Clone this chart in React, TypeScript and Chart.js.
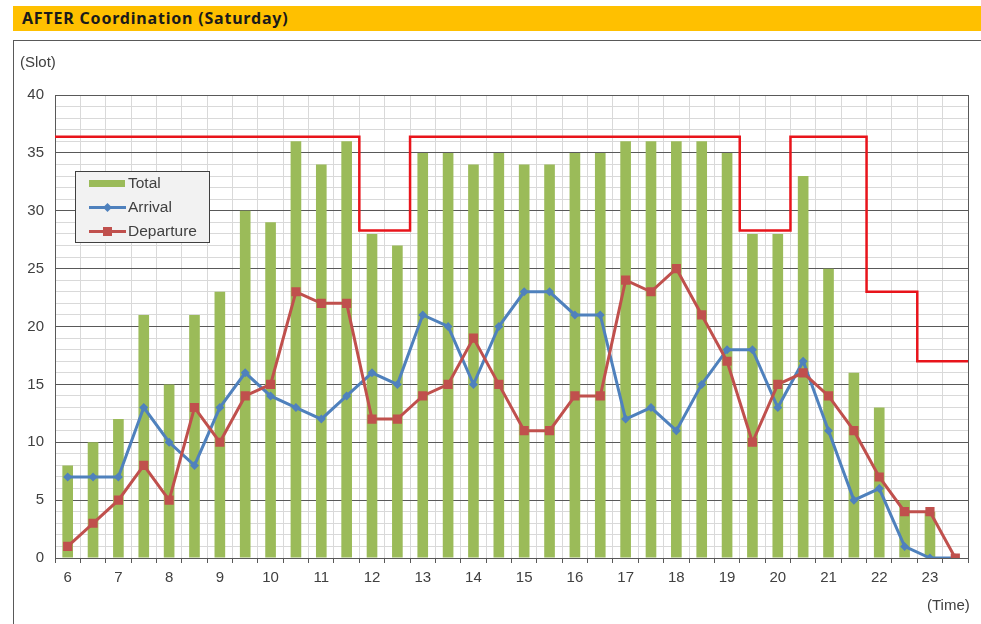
import React, { useEffect, useRef } from 'react';
import { Chart, registerables } from 'chart.js';

Chart.register(...registerables);

// ---- Data ----
const categories = [
  '6:00', '6:30', '7:00', '7:30', '8:00', '8:30', '9:00', '9:30', '10:00', '10:30',
  '11:00', '11:30', '12:00', '12:30', '13:00', '13:30', '14:00', '14:30', '15:00', '15:30',
  '16:00', '16:30', '17:00', '17:30', '18:00', '18:30', '19:00', '19:30', '20:00', '20:30',
  '21:00', '21:30', '22:00', '22:30', '23:00', '23:30',
];
const hourTickLabels = [
  '6', '', '7', '', '8', '', '9', '', '10', '', '11', '', '12', '', '13', '', '14', '',
  '15', '', '16', '', '17', '', '18', '', '19', '', '20', '', '21', '', '22', '', '23', '',
];
const totalSlots = [
  8, 10, 12, 21, 15, 21, 23, 30, 29, 36, 34, 36, 28, 27, 35, 35, 34, 35,
  34, 34, 35, 35, 36, 36, 36, 36, 35, 28, 28, 33, 25, 16, 13, 5, 4, 0,
];
const arrivals = [
  7, 7, 7, 13, 10, 8, 13, 16, 14, 13, 12, 14, 16, 15, 21, 20, 15, 20,
  23, 23, 21, 21, 12, 13, 11, 15, 18, 18, 13, 17, 11, 5, 6, 1, 0, 0,
];
const departures = [
  1, 3, 5, 8, 5, 13, 10, 14, 15, 23, 22, 22, 12, 12, 14, 15, 19, 15,
  11, 11, 14, 14, 24, 23, 25, 21, 17, 10, 15, 16, 14, 11, 7, 4, 4, 0,
];
const capacity = [
  36.4, 36.4, 36.4, 36.4, 36.4, 36.4, 36.4, 36.4, 36.4, 36.4, 36.4, 36.4,
  28.3, 28.3,
  36.4, 36.4, 36.4, 36.4, 36.4, 36.4, 36.4, 36.4, 36.4, 36.4, 36.4, 36.4, 36.4,
  28.3, 28.3,
  36.4, 36.4, 36.4,
  23, 23,
  17, 17,
];
const yMin = 0;
const yMax = 40;
const yMajorStep = 5;

const GREEN = '#9BBB59';
const BLUE = '#4F81BD';
const RED = '#C0504D';
const CAP_RED = '#E8141B';
const TEXT = '#404040';
const FONT = '"Liberation Sans", Arial, sans-serif';

const framePlugin = {
  id: 'frame',
  beforeDatasetsDraw(chart: any) {
    const { ctx, chartArea } = chart;
    ctx.save();
    ctx.strokeStyle = '#595959';
    ctx.lineWidth = 1;
    ctx.strokeRect(
      Math.round(chartArea.left) + 0.5,
      Math.round(chartArea.top) + 0.5,
      Math.round(chartArea.right - chartArea.left),
      Math.round(chartArea.bottom - chartArea.top)
    );
    ctx.restore();
  },
};

const legendPlugin = {
  id: 'boxLegend',
  afterDraw(chart: any) {
    const ctx = chart.ctx;
    ctx.save();
    ctx.fillStyle = '#F2F2F2';
    ctx.fillRect(75.5, 171.5, 134, 71);
    ctx.strokeStyle = '#404040';
    ctx.lineWidth = 1;
    ctx.strokeRect(75.5, 171.5, 134, 71);

    // Total
    ctx.fillStyle = GREEN;
    ctx.fillRect(89, 180, 36, 7);

    // Arrival
    ctx.strokeStyle = BLUE;
    ctx.lineWidth = 3;
    ctx.beginPath();
    ctx.moveTo(89, 207.5);
    ctx.lineTo(126, 207.5);
    ctx.stroke();
    ctx.fillStyle = BLUE;
    ctx.beginPath();
    ctx.moveTo(107.5, 203);
    ctx.lineTo(112, 207.5);
    ctx.lineTo(107.5, 212);
    ctx.lineTo(103, 207.5);
    ctx.closePath();
    ctx.fill();

    // Departure
    ctx.strokeStyle = RED;
    ctx.beginPath();
    ctx.moveTo(89, 231.5);
    ctx.lineTo(126, 231.5);
    ctx.stroke();
    ctx.fillStyle = RED;
    ctx.fillRect(103, 227, 9, 9);

    ctx.fillStyle = TEXT;
    ctx.font = `15.5px ${FONT}`;
    ctx.textBaseline = 'middle';
    ctx.textAlign = 'left';
    ctx.fillText('Total', 128, 184);
    ctx.fillText('Arrival', 128, 208);
    ctx.fillText('Departure', 128, 232);
    ctx.restore();
  },
};

export default function App() {
  const canvasRef = useRef<HTMLCanvasElement | null>(null);

  useEffect(() => {
    const canvas = canvasRef.current;
    if (!canvas) return;
    const capPoints = capacity
      .map((v, i) => ({ x: i, y: v }))
      .concat([{ x: capacity.length, y: capacity[capacity.length - 1] }]);

    const chart = new Chart(canvas, {
      type: 'bar',
      data: {
        labels: categories,
        datasets: [
          {
            type: 'line',
            label: 'Capacity',
            data: capPoints as any,
            xAxisID: 'xc',
            yAxisID: 'y',
            borderColor: CAP_RED,
            borderWidth: 2.5,
            pointRadius: 0,
            stepped: 'before',
            fill: false,
            order: -1,
          } as any,
          {
            type: 'line',
            label: 'Departure',
            data: departures,
            xAxisID: 'x',
            borderColor: RED,
            backgroundColor: RED,
            borderWidth: 3,
            pointStyle: 'rect',
            pointRadius: 6.5,
            pointBorderWidth: 0,
            pointBackgroundColor: RED,
            tension: 0,
            order: 0,
          } as any,
          {
            type: 'line',
            label: 'Arrival',
            data: arrivals,
            xAxisID: 'x',
            borderColor: BLUE,
            backgroundColor: BLUE,
            borderWidth: 3,
            pointStyle: 'rectRot',
            pointRadius: 4.5,
            pointBorderWidth: 0,
            pointBackgroundColor: BLUE,
            tension: 0,
            order: 1,
          } as any,
          {
            type: 'bar',
            label: 'Total',
            data: totalSlots,
            xAxisID: 'x',
            backgroundColor: GREEN,
            borderWidth: 0,
            grouped: false,
            categoryPercentage: 1,
            barPercentage: 0.42,
            order: 3,
          } as any,
        ],
      },
      options: {
        responsive: false,
        animation: false,
        devicePixelRatio: 1,
        layout: { padding: { left: 15, right: 13, top: 95, bottom: 36 } },
        plugins: {
          legend: { display: false },
          tooltip: { enabled: false },
        },
        scales: {
          x: {
            type: 'category',
            offset: true,
            grid: {
              offset: true,
              color: '#D9D9D9',
              lineWidth: 1,
              drawTicks: true,
              tickLength: 5,
              tickColor: '#595959',
            },
            border: { display: true, color: '#595959', width: 1 },
            ticks: {
              autoSkip: false,
              maxRotation: 0,
              minRotation: 0,
              padding: 6,
              color: TEXT,
              font: { family: FONT, size: 15 },
              callback: (_v: any, i: number) => hourTickLabels[i],
            },
            afterFit: (s: any) => {
              s.height = 30;
            },
          },
          xc: {
            type: 'linear',
            display: false,
            min: 0,
            max: categories.length,
            offset: false,
          },
          y: {
            type: 'linear',
            min: yMin,
            max: yMax,
            grid: {
              color: (c: any) =>
                c.tick && c.tick.value % yMajorStep === 0 ? '#595959' : '#D9D9D9',
              lineWidth: 1,
              drawTicks: false,
            },
            border: { display: true, color: '#595959', width: 1 },
            ticks: {
              stepSize: 1,
              autoSkip: false,
              maxTicksLimit: 100,
              padding: 11,
              color: TEXT,
              font: { family: FONT, size: 15 },
              callback: (v: any) => (Number(v) % yMajorStep === 0 ? String(v) : ''),
            },
            afterFit: (s: any) => {
              s.width = 40;
            },
          },
        },
      } as any,
      plugins: [framePlugin, legendPlugin],
    });
    return () => chart.destroy();
  }, []);

  return (
    <div
      style={{
        position: 'fixed',
        left: 0,
        top: 0,
        width: 981,
        height: 624,
        background: '#ffffff',
        overflow: 'hidden',
      }}
    >
      <div
        style={{
          position: 'absolute',
          left: 13,
          top: 6,
          width: 968,
          height: 25,
          background: '#FFC000',
        }}
      />
      <div
        style={{
          position: 'absolute',
          left: 22,
          top: 6,
          height: 25,
          lineHeight: '25px',
          fontFamily: '"Noto Sans", sans-serif',
          fontWeight: 700,
          fontSize: 16,
          letterSpacing: '0.8px',
          color: '#1a1a1a',
          whiteSpace: 'nowrap',
        }}
      >
        AFTER Coordination (Saturday)
      </div>
      <div
        style={{
          position: 'absolute',
          left: 13,
          top: 40,
          width: 980,
          height: 600,
          borderLeft: '1px solid #595959',
          borderTop: '1px solid #595959',
        }}
      />
      <canvas
        ref={canvasRef}
        width={981}
        height={624}
        style={{ position: 'absolute', left: 0, top: 0, width: 981, height: 624 }}
      />
      <div
        style={{
          position: 'absolute',
          left: 20,
          top: 53,
          fontFamily: FONT,
          fontSize: 15,
          color: TEXT,
          whiteSpace: 'nowrap',
        }}
      >
        (Slot)
      </div>
      <div
        style={{
          position: 'absolute',
          left: 927,
          top: 596,
          fontFamily: FONT,
          fontSize: 15,
          color: TEXT,
          whiteSpace: 'nowrap',
        }}
      >
        (Time)
      </div>
    </div>
  );
}
